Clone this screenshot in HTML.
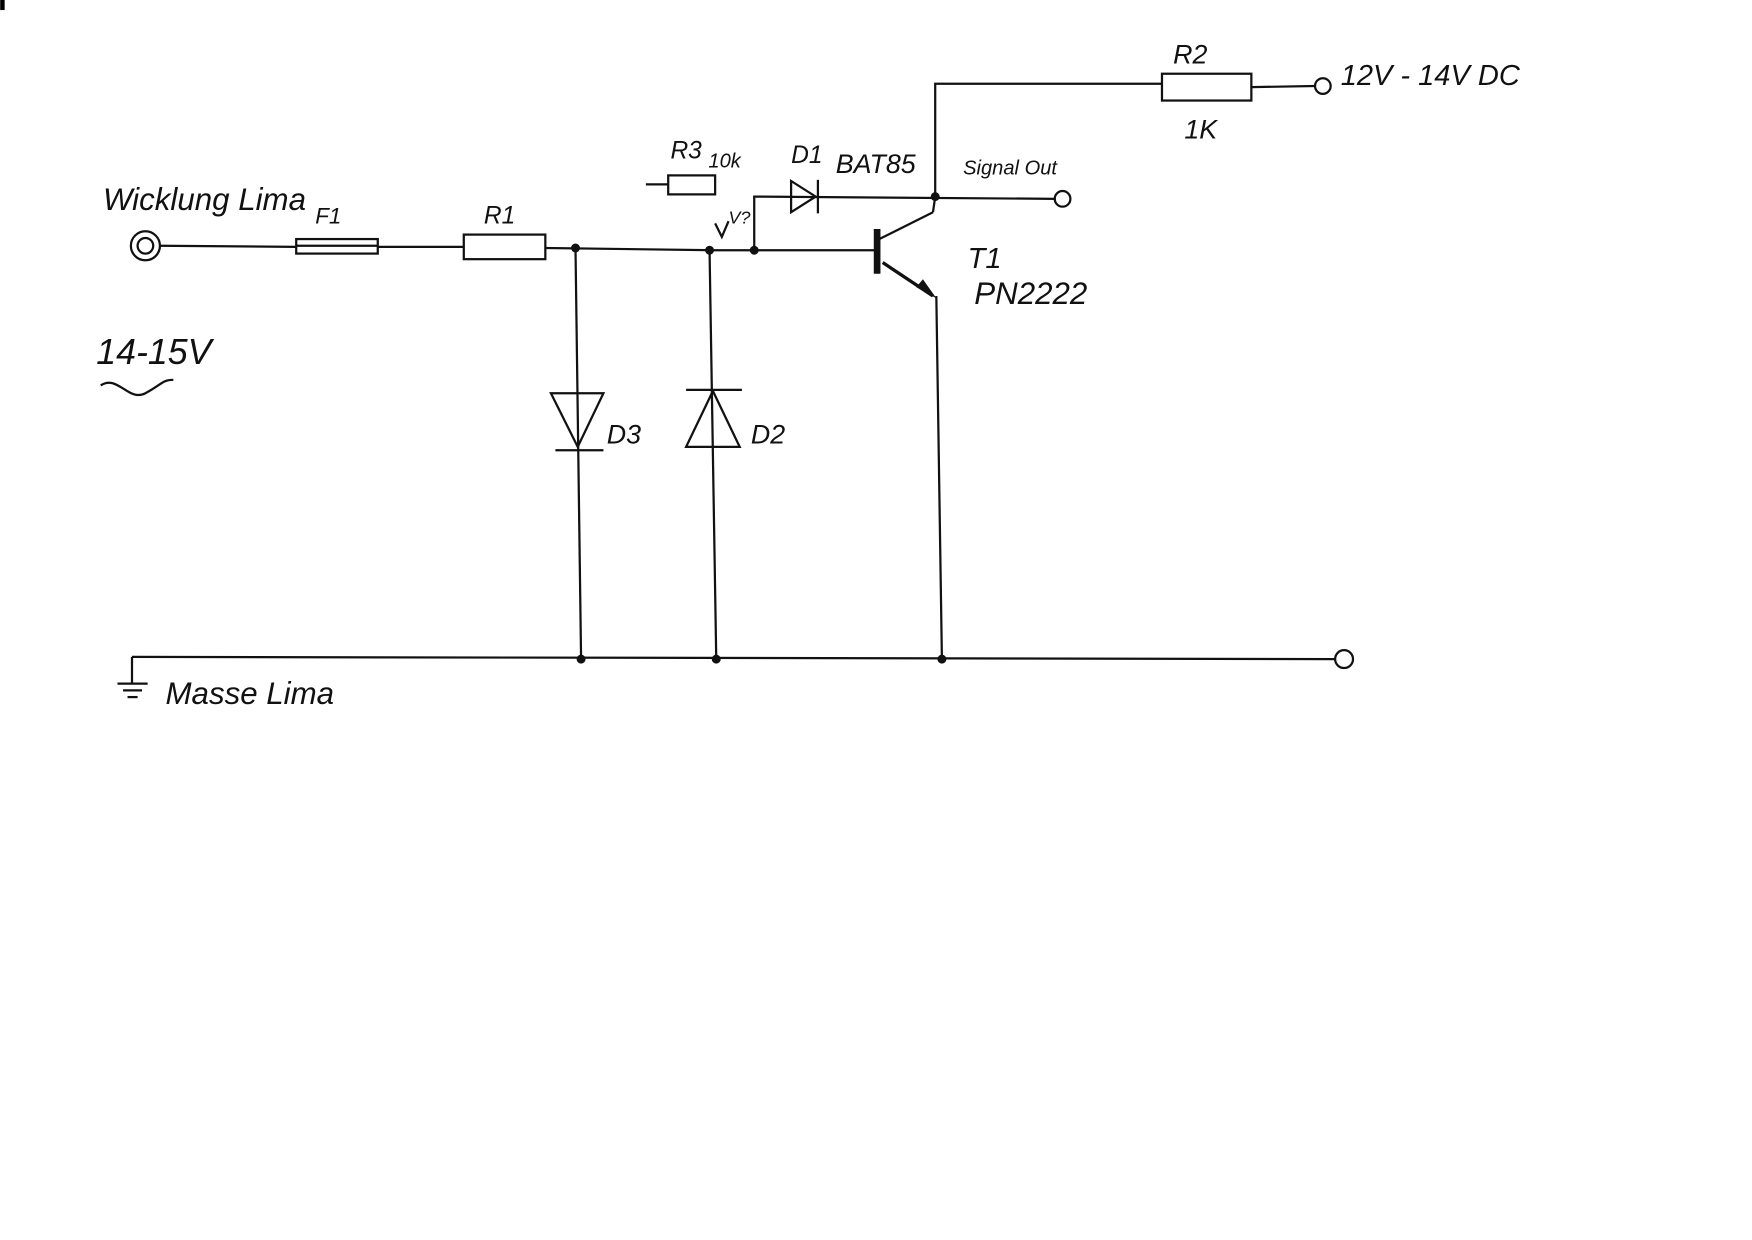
<!DOCTYPE html>
<html><head><meta charset="utf-8"><style>
html,body{margin:0;padding:0;background:#fff;width:1752px;height:1240px;overflow:hidden}
svg{display:block}
text{font-family:"Liberation Sans",sans-serif;font-style:italic;fill:#111}
</style></head><body>
<svg width="1752" height="1240" viewBox="0 0 1568 1110" xmlns="http://www.w3.org/2000/svg">
<rect x="0" y="0" width="4" height="9" fill="#000"/>
<g stroke="#111" stroke-width="2" fill="none">
<!-- input connector -->
<circle cx="130" cy="220" r="13"/><circle cx="130" cy="220" r="7"/>
<line x1="143" y1="220" x2="265" y2="221"/>
<!-- fuse -->
<rect x="265" y="214" width="73" height="13"/><line x1="265" y1="220" x2="338" y2="220"/>
<line x1="338" y1="221" x2="415" y2="221"/>
<!-- R1 -->
<rect x="415" y="210" width="73" height="22"/>
<polyline points="488,222 640,224 785,224"/>
<!-- D3 -->
<line x1="515" y1="222" x2="520" y2="590"/>
<polygon points="493,352 540,352 517,400"/>
<line x1="497" y1="403" x2="540" y2="403"/>
<!-- D2 -->
<line x1="635" y1="224" x2="641" y2="590"/>
<polygon points="614,400 662,400 638,350"/>
<line x1="614" y1="349" x2="664" y2="349"/>
<!-- ground line -->
<line x1="118" y1="588" x2="1195" y2="590"/>
<line x1="118" y1="588" x2="118" y2="612"/>
<line x1="105" y1="612" x2="132" y2="612"/>
<line x1="110" y1="618" x2="127" y2="618"/>
<line x1="114" y1="624" x2="123" y2="624"/>
<circle cx="1203" cy="590" r="8"/>
<!-- transistor -->
<line x1="785" y1="205" x2="785" y2="245" stroke-width="6"/>
<line x1="785" y1="215" x2="835" y2="190"/>
<line x1="835" y1="190" x2="837" y2="176"/>
<line x1="790" y1="235" x2="835" y2="265" stroke-width="3"/>
<line x1="838" y1="265" x2="843" y2="590"/>
<!-- collector / D1 -->
<polyline points="675,224 675,176 945,178"/>
<circle cx="951" cy="178" r="7"/>
<polygon points="708,162 708,190 730,176"/>
<line x1="732" y1="161" x2="732" y2="191"/>
<!-- R2 -->
<polyline points="837,176 837,75 1040,75"/>
<rect x="1040" y="66" width="80" height="24"/>
<line x1="1120" y1="78" x2="1177" y2="77"/>
<circle cx="1184" cy="77" r="7"/>
<!-- R3 -->
<line x1="578" y1="165" x2="598" y2="165"/>
<rect x="598" y="157" width="42" height="17"/>
<polyline points="640,200 646,212 652,198"/>
<!-- tilde -->
<path d="M90,345 C105,335 115,360 130,352 S145,340 155,340"/>
</g>
<g fill="#111">
<polygon points="820,257 838,267 826,250"/>
<circle cx="515" cy="222" r="4"/><circle cx="635" cy="224" r="4"/><circle cx="675" cy="224" r="4"/>
<circle cx="520" cy="590" r="4"/><circle cx="641" cy="590" r="4"/><circle cx="843" cy="590" r="4"/>
<circle cx="837" cy="176" r="4"/>
</g>
<text x="92" y="188" font-size="28">Wicklung Lima</text>
<text x="282" y="200" font-size="20">F1</text>
<text x="433" y="200" font-size="22">R1</text>
<text x="86" y="326" font-size="32">14-15V</text>
<text x="543" y="397" font-size="24">D3</text>
<text x="672" y="397" font-size="24">D2</text>
<text x="600" y="142" font-size="22">R3</text>
<text x="634" y="150" font-size="18">10k</text>
<text x="652" y="200" font-size="16">V?</text>
<text x="708" y="146" font-size="22">D1</text>
<text x="748" y="155" font-size="24">BAT85</text>
<text x="862" y="156" font-size="18">Signal Out</text>
<text x="866" y="240" font-size="26">T1</text>
<text x="872" y="272" font-size="28">PN2222</text>
<text x="1050" y="57" font-size="24">R2</text>
<text x="1060" y="124" font-size="24">1K</text>
<text x="1200" y="76" font-size="26">12V - 14V DC</text>
<text x="148" y="630" font-size="28">Masse Lima</text>
</svg>
</body></html>
